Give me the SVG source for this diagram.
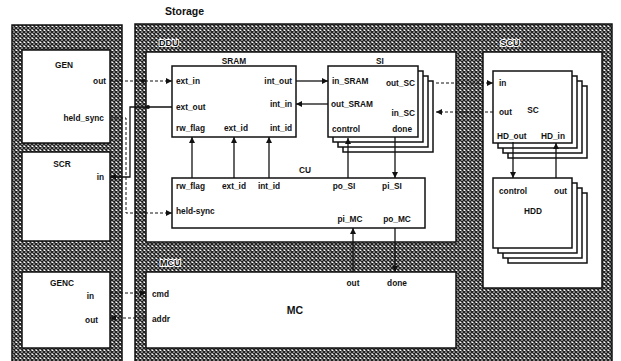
<svg xmlns="http://www.w3.org/2000/svg" width="621" height="361" viewBox="0 0 621 361">
<style>
text{font-family:"Liberation Sans",Arial,sans-serif;font-size:8.3px;font-weight:bold;fill:#111}
.mid{text-anchor:middle}
.end{text-anchor:end}
.big{font-size:10.5px}
.hl{font-size:9px;paint-order:stroke;stroke:#fff;stroke-width:2px;stroke-linejoin:round}
.box{fill:#fff;stroke:#111;stroke-width:1.5}
.area{fill:#fff;stroke:#111;stroke-width:1.5}
.hatch{fill:url(#hp);stroke:#111;stroke-width:1.5}
.ln{fill:none;stroke:#111;stroke-width:1.3}
.dl{fill:none;stroke:#111;stroke-width:1;stroke-dasharray:3 2}
.a{marker-end:url(#ah)}
.dot{fill:#111}
</style>
<defs>
<pattern id="hp" width="4" height="4" patternUnits="userSpaceOnUse">
<rect width="4" height="4" fill="#fff"/>
<path d="M0,0 L4,4 M4,0 L0,4" stroke="#222" stroke-width="1.5"/>
</pattern>
<marker id="ah" viewBox="0 0 6 6" refX="6" refY="3" markerWidth="6" markerHeight="6" markerUnits="userSpaceOnUse" orient="auto">
<path d="M0,0 L6,3 L0,6 z" fill="#111"/>
</marker>
</defs>
<rect width="621" height="361" fill="#fff"/>
<text x="165" y="15" class="big">Storage</text>

<g id="left-panel">
<rect class="hatch" x="12" y="25" width="110" height="340"/>
</g>
<g id="right-panel">
<rect class="hatch" x="135" y="24" width="477" height="341"/>
</g>

<g id="GEN">
<rect class="box" x="22" y="50" width="88" height="93"/>
<text x="64" y="68" class="mid">GEN</text>
<text x="106" y="84" class="end">out</text>
<text x="104" y="121" class="end">held_sync</text>
</g>
<g id="SCR">
<rect class="box" x="22" y="152" width="88" height="89"/>
<text x="62" y="167" class="mid">SCR</text>
<text x="104" y="180" class="end">in</text>
</g>
<g id="GENC">
<rect class="box" x="22" y="272" width="88" height="76"/>
<text x="62" y="286" class="mid">GENC</text>
<text x="94" y="299" class="end">in</text>
<text x="98" y="323" class="end">out</text>
</g>

<g id="DDU">
<rect class="area" x="146" y="52" width="310" height="190"/>
<text x="159" y="46" class="hl">DDU</text>
</g>
<g id="MCU">
<rect class="area" x="146" y="272" width="310" height="76"/>
<text x="160" y="266" class="hl">MCU</text>
</g>
<g id="SCU">
<rect class="area" x="483" y="52" width="119" height="236"/>
<text x="510" y="46" class="mid hl">SCU</text>
</g>

<g id="SRAM">
<rect class="box" x="172" y="66" width="124" height="71"/>
<text x="234" y="64" class="mid">SRAM</text>
<text x="176" y="84">ext_in</text>
<text x="176" y="110">ext_out</text>
<text x="176" y="131">rw_flag</text>
<text x="236" y="131" class="mid">ext_id</text>
<text x="292" y="131" class="end">int_id</text>
<text x="292" y="84" class="end">int_out</text>
<text x="292" y="107" class="end">int_in</text>
</g>

<g id="SI">
<rect class="box" x="343" y="81" width="90" height="71"/>
<rect class="box" x="338" y="76" width="90" height="71"/>
<rect class="box" x="333" y="71" width="90" height="71"/>
<rect class="box" x="328" y="66" width="90" height="71"/>
<text x="380" y="64" class="mid">SI</text>
<text x="332" y="84">in_SRAM</text>
<text x="331" y="107">out_SRAM</text>
<text x="332" y="132">control</text>
<text x="415" y="86" class="end">out_SC</text>
<text x="415" y="116" class="end">in_SC</text>
<text x="412" y="132" class="end">done</text>
</g>

<g id="CU">
<rect class="box" x="172" y="178" width="253" height="50"/>
<text x="305" y="173" class="mid">CU</text>
<text x="176" y="189">rw_flag</text>
<text x="234" y="189" class="mid">ext_id</text>
<text x="269" y="189" class="mid">int_id</text>
<text x="176" y="214">held-sync</text>
<text x="344" y="189" class="mid">po_SI</text>
<text x="392" y="189" class="mid">pi_SI</text>
<text x="350" y="222" class="mid">pi_MC</text>
<text x="397" y="222" class="mid">po_MC</text>
</g>

<g id="MC">
<text x="295" y="314" class="mid big">MC</text>
<text x="152" y="297">cmd</text>
<text x="152" y="322">addr</text>
<text x="353" y="286" class="mid">out</text>
<text x="397" y="286" class="mid">done</text>
</g>

<g id="SC">
<rect class="box" x="508" y="86" width="79" height="72"/>
<rect class="box" x="503" y="81" width="79" height="72"/>
<rect class="box" x="498" y="76" width="79" height="72"/>
<rect class="box" x="493" y="71" width="79" height="72"/>
<text x="533" y="113" class="mid">SC</text>
<text x="499" y="86">in</text>
<text x="499" y="115">out</text>
<text x="497" y="139">HD_out</text>
<text x="541" y="139">HD_in</text>
</g>

<g id="HDD">
<rect class="box" x="508" y="193" width="79" height="70"/>
<rect class="box" x="503" y="188" width="79" height="70"/>
<rect class="box" x="498" y="183" width="79" height="70"/>
<rect class="box" x="493" y="178" width="79" height="70"/>
<text x="499" y="194">control</text>
<text x="567" y="194" class="end">out</text>
<text x="533" y="214" class="mid">HDD</text>
</g>

<g id="connectors">
<path class="dl a" d="M110,81 H172"/>
<circle class="dot" cx="143" cy="81" r="2"/>
<path class="ln a" d="M172,107 H130 V177 H110"/>
<circle class="dot" cx="148" cy="107" r="2"/>
<path class="dl a" d="M110,118 H126 V213 H172"/>
<path class="ln a" d="M296,81 H328"/>
<path class="ln a" d="M328,104 H296"/>
<path class="ln a" d="M192,178 V137"/>
<path class="ln a" d="M234,178 V137"/>
<path class="ln a" d="M269,178 V137"/>
<path class="ln a" d="M348,178 V138"/>
<path class="ln a" d="M395,137 V178"/>
<path class="ln a" d="M353,272 V228"/>
<path class="ln a" d="M395,228 V272"/>
<path class="dl a" d="M436,83 H493"/>
<path class="dl a" d="M493,112 H436"/>
<path class="ln a" d="M513,142 V178"/>
<path class="ln a" d="M556,178 V143"/>
<path class="dl a" d="M110,293 H146"/>
<path class="dl a" d="M146,318 H110"/>
</g>
</svg>
